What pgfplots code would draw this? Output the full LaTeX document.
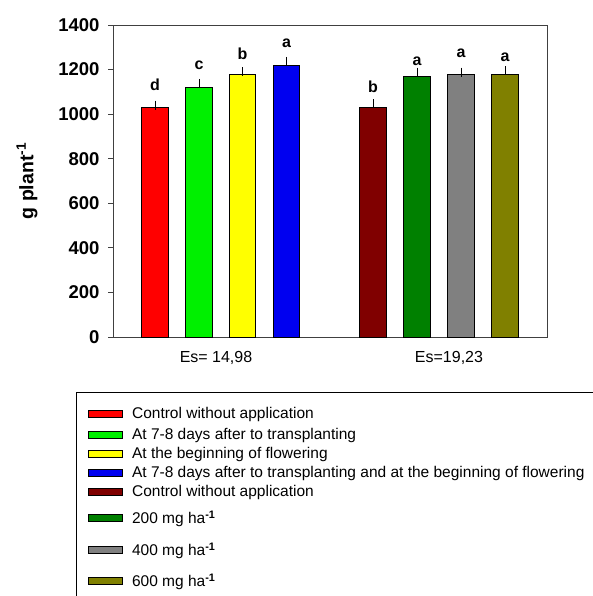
\documentclass[border=0pt]{standalone}
\usepackage{pgfplots}
\pgfplotsset{compat=1.18}
\usepackage{fontspec}
\setmainfont{Liberation Sans}
\definecolor{cRed}{RGB}{255,0,0}
\definecolor{cLime}{RGB}{0,240,0}
\definecolor{cYellow}{RGB}{255,255,0}
\definecolor{cBlue}{RGB}{0,0,240}
\definecolor{cMaroon}{RGB}{128,0,0}
\definecolor{cGreen}{RGB}{0,128,0}
\definecolor{cGray}{RGB}{128,128,128}
\definecolor{cOlive}{RGB}{128,128,0}
\pgfplotsset{
  mybar/.style={ybar, bar width=26.5, bar shift=0pt, fill=#1, draw=black, line width=0.7pt,
    error bars/.cd, y dir=plus, y explicit,
    error bar style={black, line width=0.8pt},
    error mark options={black, mark size=4.5pt, line width=0.8pt}, /pgfplots/.cd},
  legrow/.style 2 args={legend image code/.code={%
    \path[draw=none, fill=none] (0pt,-#1) rectangle (34pt,#2);
    \draw[##1, line width=0.7pt] (0pt,-3.5pt) rectangle (34pt,3.5pt);}},
}
\begin{document}
\begin{tikzpicture}
\path[use as bounding box] (0,0) rectangle (593pt,-596pt);
\clip (0,0) rectangle (593pt,-596pt);
\begin{axis}[
  at={(113pt,-337pt)}, anchor=south west,
  scale only axis, width=434pt, height=312pt,
  xmin=0, xmax=434, ymin=0, ymax=1400,
  axis line style={black!75, line width=0.8pt},
  ytick={0,200,...,1400},
  /pgf/number format/assume math mode=true,
  /pgf/number format/1000 sep={},
  yticklabel style={font=\fontsize{18.5}{18.5}\selectfont\bfseries, xshift=-5pt},
  tick align=outside, ytick pos=left, major tick length=5pt,
  ytick style={black!75, line width=0.8pt},
  xtick={103,336}, xticklabels={{Es= 14,98},{Es=19,23}},
  xtick style={draw=none},
  xticklabel style={font=\fontsize{16}{16}\selectfont, yshift=-6pt},
  ylabel={g plant\textsuperscript{-1}},
  ylabel style={font=\fontsize{19.5}{19.5}\selectfont\bfseries, at={(axis description cs:-0.198,0.5)}, anchor=center},
  legend style={at={(axis description cs:-0.0853,-0.1763)}, anchor=north west,
    draw=black, line width=0.8pt, font=\fontsize{15.5}{15.5}\selectfont,
    inner xsep=12pt, inner ysep=4pt, row sep=0pt, column sep=9pt,
    nodes={inner sep=0pt}},
  legend cell align=left,
]
\addplot[legrow={11pt}{17pt}, mybar=cRed] coordinates {(42,1029) +- (0,12)};
\addplot[legrow={9.5pt}{10pt}, mybar=cLime] coordinates {(86,1118) +- (0,20)};
\addplot[legrow={9.5pt}{9.5pt}, mybar=cYellow] coordinates {(129.5,1177) +- (0,13)};
\addplot[legrow={9.5pt}{9.5pt}, mybar=cBlue] coordinates {(173.5,1221) +- (0,16)};
\addplot[legrow={9.5pt}{9.5pt}, mybar=cMaroon] coordinates {(260,1029) +- (0,18)};
\addplot[legrow={14pt}{17pt}, mybar=cGreen] coordinates {(304,1171) +- (0,18)};
\addplot[legrow={14pt}{18pt}, mybar=cGray] coordinates {(348,1177) +- (0,12)};
\addplot[legrow={20pt}{17pt}, mybar=cOlive] coordinates {(392,1177) +- (0,18)};
\addplot[only marks, mark=none, forget plot, nodes near coords, point meta=explicit symbolic,
  every node near coord/.append style={anchor=base, font=\fontsize{16}{16}\selectfont\bfseries}]
  coordinates {(42,1108)[d] (86,1202)[c] (129.5,1243)[b] (173.5,1297)[a]
               (260,1099)[b] (304,1220)[a] (348,1256)[a] (392,1238)[a]};
\legend{
  Control without application,
  At 7-8 days after to transplanting,
  At the beginning of flowering,
  At 7-8 days after to transplanting and at the beginning of flowering\hspace*{40pt},
  Control without application,
  200 mg ha\textsuperscript{\bfseries -1},
  400 mg ha\textsuperscript{\bfseries -1},
  600 mg ha\textsuperscript{\bfseries -1}
}
\end{axis}
\end{tikzpicture}
\end{document}
